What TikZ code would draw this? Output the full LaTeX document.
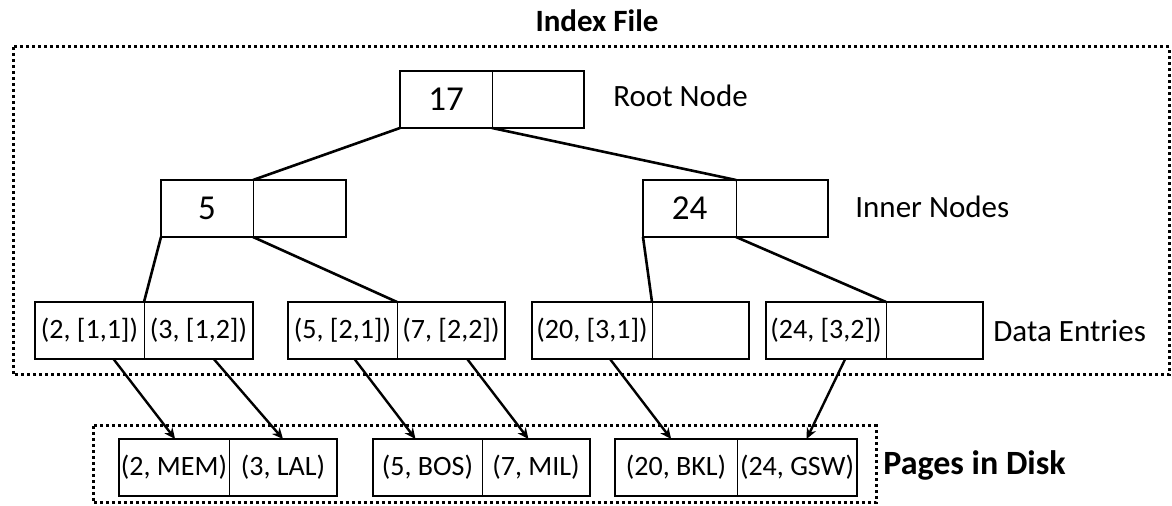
\documentclass[tikz,border=0pt]{standalone}
\usepackage{fontspec}
\setmainfont{Carlito}
\usetikzlibrary{calc,arrows.meta}

\begin{document}
\begin{tikzpicture}[x=0.5pt, y=-0.5pt,
    cell/.style={draw, line width=0.5pt, minimum height=28.5pt, inner sep=0pt, outer sep=0pt, anchor=north west},
    keycell/.style={cell, font=\fontsize{17.5pt}{20pt}\selectfont},
    entrycell/.style={cell, font=\fontsize{14pt}{16.5pt}\selectfont},
    boxline/.style={line width=1.4pt},
    branch/.style={line width=1.3pt},
    ptr/.style={line width=1.2pt, -{Stealth[length=5.5pt, width=5pt]}},
    lbl/.style={inner sep=0pt, anchor=base west, font=\fontsize{15.5pt}{18pt}\selectfont},
    heading/.style={inner sep=0pt, font=\bfseries\fontsize{15.5pt}{18pt}\selectfont},
    fileframe/.style={line width=1.5pt, dash pattern=on 1.5pt off 1.5pt}]
    \useasboundingbox (0,0) rectangle (1172,506);

    % Dotted frames for index file and disk pages
    \draw[fileframe] (13,47) rectangle (1169,375);
    \draw[fileframe] (93,426) rectangle (876,503);
    \node[heading, anchor=base] (idxtitle) at (597,32) {Index File};

    % Root node
    \node[keycell, minimum width=46pt] (root1) at (400,71) {17};
    \node[keycell, minimum width=46pt] (root2) at (root1.north east) {};
    \draw[boxline] (root1.north west) rectangle (root2.south east);

    % Inner nodes
    \node[keycell, minimum width=46pt] (in1a) at (161,180) {5};
    \node[keycell, minimum width=46.5pt] (in1b) at (in1a.north east) {};
    \draw[boxline] (in1a.north west) rectangle (in1b.south east);
    \node[keycell, minimum width=46.5pt] (in2a) at (643,180) {24};
    \node[keycell, minimum width=46pt] (in2b) at (in2a.north east) {};
    \draw[boxline] (in2a.north west) rectangle (in2b.south east);

    % Data entries
    \node[entrycell, minimum width=54.5pt] (de1a) at (35,302) {(2, [1,1])};
    \node[entrycell, minimum width=54.5pt] (de1b) at (de1a.north east) {(3, [1,2])};
    \draw[boxline] (de1a.north west) rectangle (de1b.south east);
    \node[entrycell, minimum width=54.5pt] (de2a) at (288,302) {(5, [2,1])};
    \node[entrycell, minimum width=54pt] (de2b) at (de2a.north east) {(7, [2,2])};
    \draw[boxline] (de2a.north west) rectangle (de2b.south east);
    \node[entrycell, minimum width=60pt] (de3a) at (532,302) {(20, [3,1])};
    \node[entrycell, minimum width=48.5pt] (de3b) at (de3a.north east) {};
    \draw[boxline] (de3a.north west) rectangle (de3b.south east);
    \node[entrycell, minimum width=60pt] (de4a) at (766,302) {(24, [3,2])};
    \node[entrycell, minimum width=48.5pt] (de4b) at (de4a.north east) {};
    \draw[boxline] (de4a.north west) rectangle (de4b.south east);

    % Pages in disk
    \node[entrycell, minimum width=55pt] (pg1a) at (119,439) {(2, MEM)};
    \node[entrycell, minimum width=54pt] (pg1b) at (pg1a.north east) {(3, LAL)};
    \draw[boxline] (pg1a.north west) rectangle (pg1b.south east);
    \node[entrycell, minimum width=54.5pt] (pg2a) at (373,439) {(5, BOS)};
    \node[entrycell, minimum width=54pt] (pg2b) at (pg2a.north east) {(7, MIL)};
    \draw[boxline] (pg2a.north west) rectangle (pg2b.south east);
    \node[entrycell, minimum width=61pt] (pg3a) at (615,439) {(20, BKL)};
    \node[entrycell, minimum width=60pt] (pg3b) at (pg3a.north east) {(24, GSW)};
    \draw[boxline] (pg3a.north west) rectangle (pg3b.south east);

    % Labels to the right of each level
    \node[lbl] (rootlbl) at ($(root2.east) + (29,7.5)$) {Root Node};
    \node[lbl] (innerlbl) at ($(in2b.east) + (27,9)$) {Inner Nodes};
    \node[lbl] (datalbl) at ($(de4b.east) + (10,11)$) {Data Entries};
    \node[heading, anchor=base west, font=\bfseries\fontsize{17pt}{20pt}\selectfont] (disklbl) at ($(pg3b.east) + (26,7.5)$) {Pages in Disk};

    % Tree branches
    \draw[branch] (root1.south west) -- (in1b.north west);
    \draw[branch] (root2.south west) -- (in2b.north west);
    \draw[branch] (in1a.south west) -- (de1b.north west);
    \draw[branch] (in1b.south west) -- (de2b.north west);
    \draw[branch] (in2a.south west) -- (de3b.north west);
    \draw[branch] (in2b.south west) -- (de4b.north west);

    % Pointers from data entries to disk pages
    \draw[ptr] ($(de1a.south west)!0.72!(de1a.south east)$) -- ($(pg1a.north west)!0.51!(pg1a.north east)$);
    \draw[ptr] ($(de1b.south west)!0.64!(de1b.south east)$) -- ($(pg1b.north west)!0.5!(pg1b.north east)$);
    \draw[ptr] ($(de2a.south west)!0.61!(de2a.south east)$) -- ($(pg2a.north west)!0.39!(pg2a.north east)$);
    \draw[ptr] ($(de2b.south west)!0.65!(de2b.south east)$) -- ($(pg2b.north west)!0.43!(pg2b.north east)$);
    \draw[ptr] ($(de3a.south west)!0.65!(de3a.south east)$) -- ($(pg3a.north west)!0.46!(pg3a.north east)$);
    \draw[ptr] ($(de4a.south west)!0.66!(de4a.south east)$) -- ($(pg3b.north west)!0.58!(pg3b.north east)$);

\end{tikzpicture}
\end{document}
